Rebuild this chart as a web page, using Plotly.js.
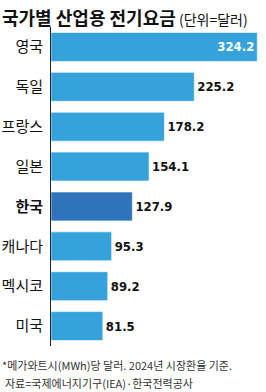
<!DOCTYPE html>
<html><head><meta charset="utf-8">
<script src="https://cdn.plot.ly/plotly-3.0.1.min.js"></script>
<style>html,body{margin:0;padding:0;background:#fff;}#c{width:266px;height:392px;}</style>
</head><body><div id="c"></div>
<script>
const countries = ['영국','독일','프랑스','일본','한국','캐나다','멕시코','미국'];
const prices = [324.2, 225.2, 178.2, 154.1, 127.9, 95.3, 89.2, 81.5];
const valueLabels = ['324.2','225.2','178.2','154.1','127.9','95.3','89.2','81.5'];
const tickLabels = ['영국','독일','프랑스','일본','<b>한국</b>','캐나다','멕시코','미국'];
const highlight = '한국';
const titleMain = '국가별 산업용 전기요금';
const titleUnit = '(단위=달러)';
const note1 = '*메가와트시(MWh)당 달러. 2024년 시장환율 기준.';
const note2 = '자료=국제에너지기구(IEA)·한국전력공사';

const colors = countries.map(c => c === highlight ? '#2f74ba' : '#35a2dc');
const textPos = prices.map((v, i) => i === 0 ? 'inside' : 'outside');
const textColors = prices.map((v, i) => i === 0 ? '#ffffff' : '#111111');

const trace = {
  type: 'bar', orientation: 'h',
  x: prices, y: countries,
  text: valueLabels, textposition: textPos,
  insidetextanchor: 'end', cliponaxis: false,
  textfont: {family: 'DejaVu Sans Condensed', stretch: 'condensed', size: 13, color: textColors, weight: 'bold'},
  marker: {color: colors, line: {color: 'rgba(255,255,255,0.6)', width: 1}},
  hoverinfo: 'none'
};

const layout = {
  width: 266, height: 392,
  margin: {l: 51, r: 5, t: 26.5, b: 45.5},
  paper_bgcolor: '#fff', plot_bgcolor: '#fff',
  bargap: 0.275,
  showlegend: false,
  xaxis: {range: [0, 330], visible: false, fixedrange: true},
  yaxis: {
    type: 'category', autorange: 'reversed',
    tickvals: countries, ticktext: tickLabels,
    showline: true, linecolor: '#222', linewidth: 1,
    showgrid: false, zeroline: false, ticks: '', ticklabelstandoff: 4,
    tickfont: {family: 'Noto Sans CJK KR, sans-serif', size: 15, color: '#111'}
  },
  annotations: [
    {xref: 'paper', yref: 'paper', x: -51/210, y: 1, yshift: 26.5 - 1, xanchor: 'left', yanchor: 'top', showarrow: false,
     text: '<b>' + titleMain + '</b><span style="font-size:14px"> ' + titleUnit + '</span>',
     font: {family: 'Noto Sans CJK KR, sans-serif', size: 18, color: '#111'}},
    {xref: 'paper', yref: 'paper', x: -51/210, y: 0, yshift: -9, xanchor: 'left', yanchor: 'top', showarrow: false, align: 'left',
     text: note1,
     font: {family: 'Noto Sans CJK KR, sans-serif', size: 11, color: '#333'}},
    {xref: 'paper', yref: 'paper', x: -48/210, y: 0, yshift: -27, xanchor: 'left', yanchor: 'top', showarrow: false, align: 'left',
     text: note2,
     font: {family: 'Noto Sans CJK KR, sans-serif', size: 11, color: '#333'}}
  ]
};
Plotly.newPlot('c', [trace], layout, {staticPlot: true, displayModeBar: false});
</script></body></html>
